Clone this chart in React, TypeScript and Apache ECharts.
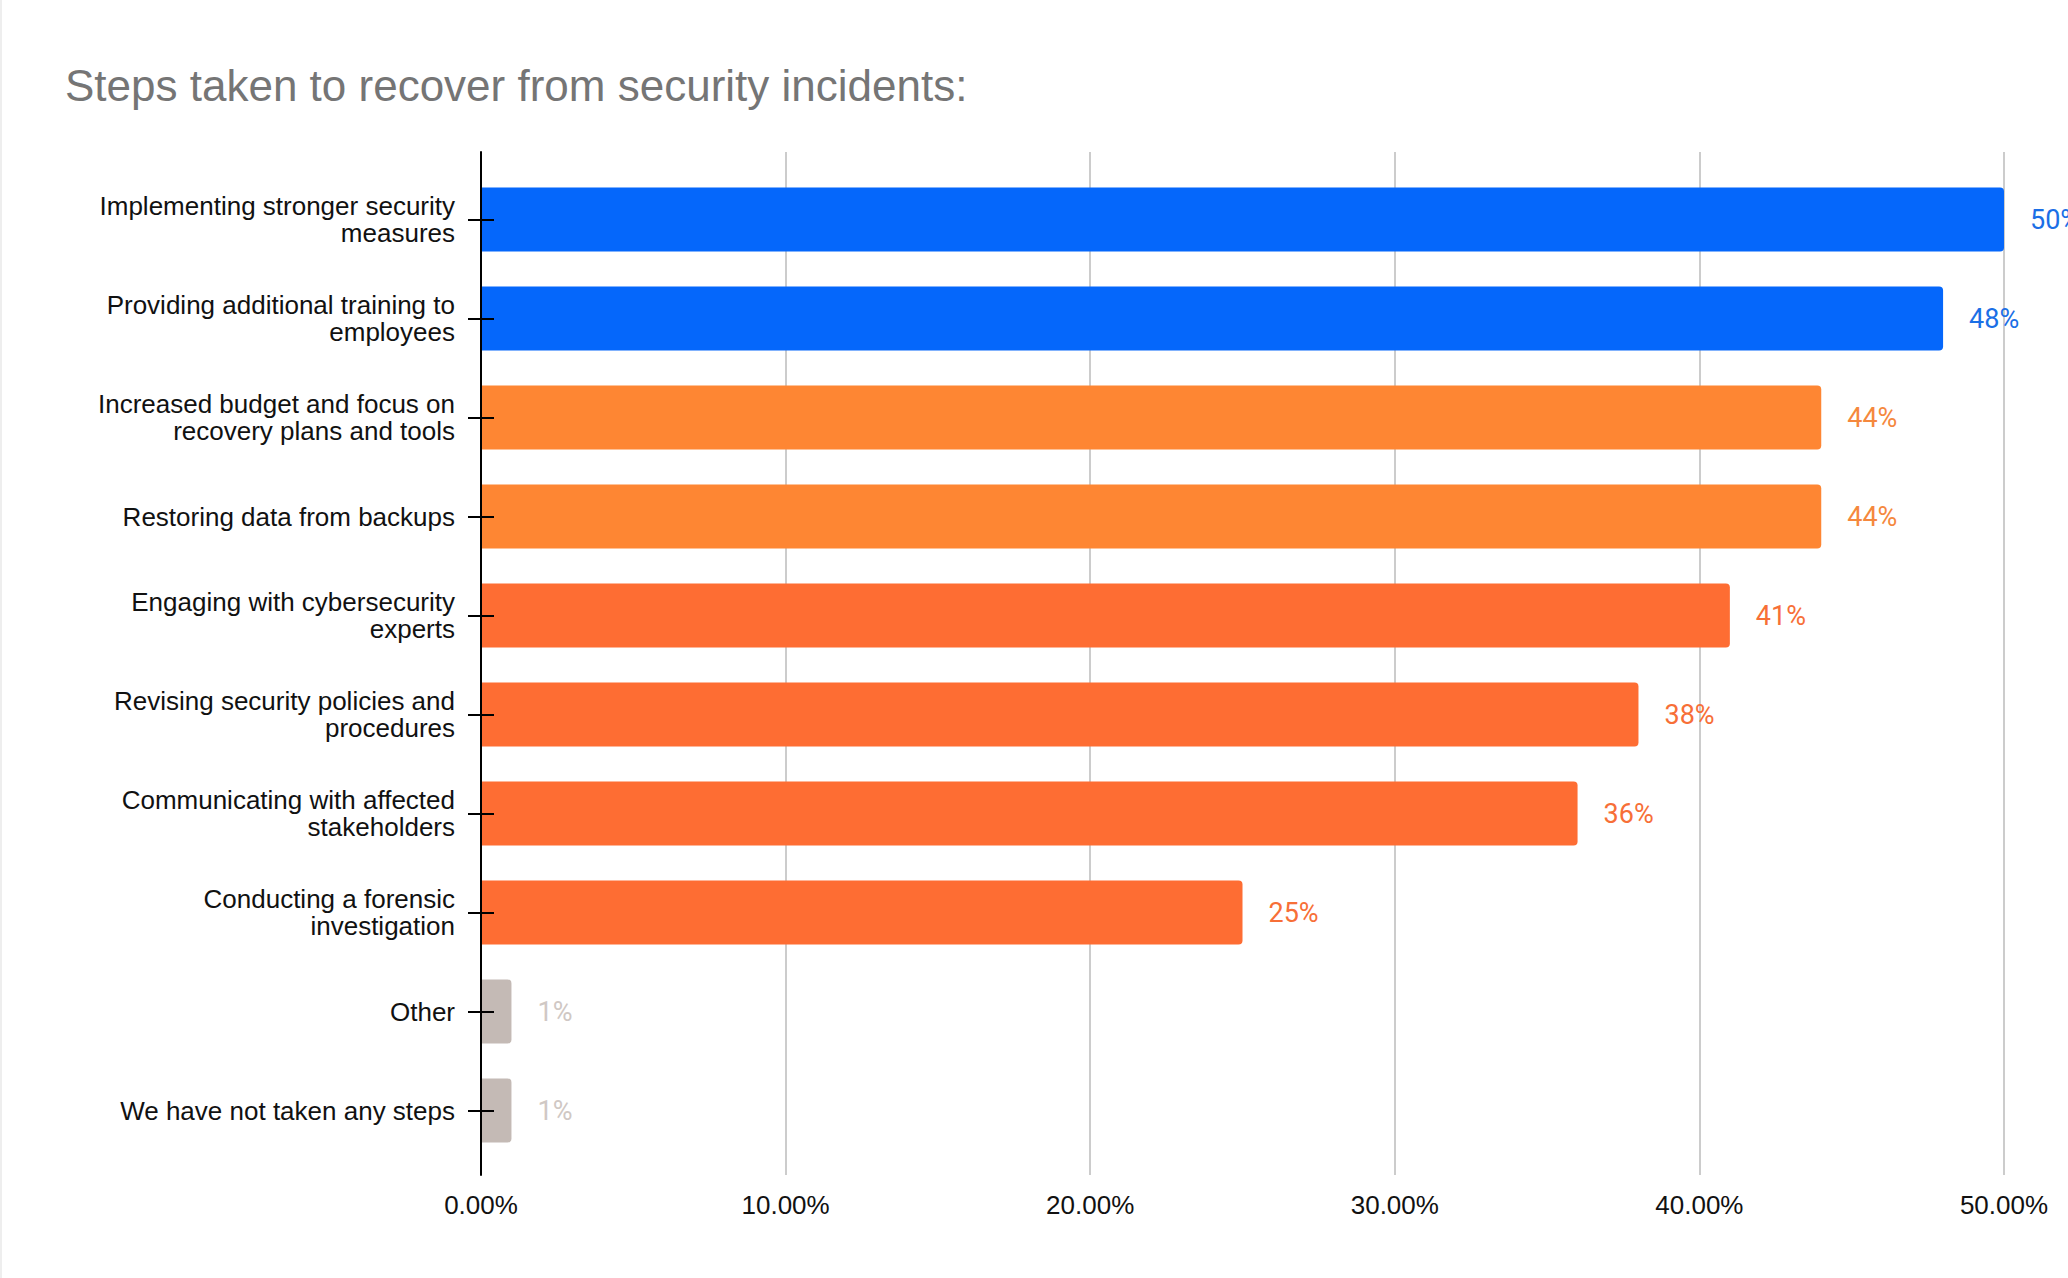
import React, { useEffect, useRef } from "react";
import * as echarts from "echarts";

const TITLE = "Steps taken to recover from security incidents:";
const categories = [
  "Implementing stronger security\nmeasures",
  "Providing additional training to\nemployees",
  "Increased budget and focus on\nrecovery plans and tools",
  "Restoring data from backups",
  "Engaging with cybersecurity\nexperts",
  "Revising security policies and\nprocedures",
  "Communicating with affected\nstakeholders",
  "Conducting a forensic\ninvestigation",
  "Other",
  "We have not taken any steps",
];
const values = [50, 48, 44, 44, 41, 38, 36, 25, 1, 1];
const xTicks = [0, 10, 20, 30, 40, 50];
// colour group per category: 0 blue, 1 light orange, 2 orange, 3 grey
const colorGroup = [0, 0, 1, 1, 2, 2, 2, 2, 3, 3];
const barColors = ["#0567fb", "#fe8633", "#fe6d33", "#c4bab5"];
const labelColors = ["#1b6fe6", "#f5883d", "#f76f37", "#d0c8c4"];

export default function App() {
  const ref = useRef<HTMLDivElement>(null);
  useEffect(() => {
    if (!ref.current) return;
    const chart = echarts.init(ref.current, null, { renderer: "svg" });
    const font = "'Liberation Sans', Arial, sans-serif";
    chart.setOption({
      animation: false,
      backgroundColor: "#ffffff",
      title: {
        text: TITLE,
        left: 58,
        top: 58,
        textStyle: { fontFamily: font, fontSize: 44, fontWeight: "normal", color: "#757575" },
      },
      grid: [
        { left: 479, right: 64, top: 152, bottom: 103 },
        { left: 479, right: 64, top: 170, bottom: 118 },
      ],
      xAxis: [
        {
          gridIndex: 0,
          type: "value",
          min: xTicks[0],
          max: xTicks[xTicks.length - 1],
          interval: 10,
          axisLine: { show: false },
          axisTick: { show: false },
          splitLine: { show: true, lineStyle: { color: "#cccccc", width: 2 } },
          axisLabel: {
            margin: 17,
            fontFamily: font,
            fontSize: 26,
            color: "#111111",
            formatter: (v: number) => v.toFixed(2) + "%",
          },
        },
        {
          gridIndex: 1,
          type: "value",
          min: xTicks[0],
          max: xTicks[xTicks.length - 1],
          interval: 10,
          show: false,
        },
      ],
      yAxis: [
        {
          gridIndex: 0,
          type: "category",
          position: "left",
          z: 5,
          data: categories,
          inverse: true,
          axisLine: { show: true, lineStyle: { color: "#000000", width: 2 } },
          axisTick: { show: false },
          axisLabel: { show: false },
          splitLine: { show: false },
        },
        {
          gridIndex: 1,
          type: "category",
          position: "left",
          z: 5,
          data: categories,
          inverse: true,
          axisLine: { show: false },
          axisTick: { show: true, alignWithLabel: true, length: 13, lineStyle: { color: "#000000", width: 2 } },
          axisLabel: {
            margin: 26,
            fontFamily: font,
            fontSize: 26,
            lineHeight: 27,
            color: "#111111",
            align: "right",
          },
        },
        {
          gridIndex: 1,
          type: "category",
          position: "left",
          offset: 0,
          z: 5,
          data: categories,
          inverse: true,
          axisLine: { show: false },
          axisTick: { show: true, inside: true, alignWithLabel: true, length: 13, lineStyle: { color: "#000000", width: 2 } },
          axisLabel: { show: false },
        },
      ],
      series: [
        {
          type: "bar",
          xAxisIndex: 1,
          yAxisIndex: 1,
          z: 2,
          barWidth: 64,
          data: values.map((v, i) => ({
            value: v,
            itemStyle: { color: barColors[colorGroup[i]], borderRadius: [0, 4, 4, 0] },
            label: { color: labelColors[colorGroup[i]] },
          })),
          label: {
            show: true,
            position: "right",
            distance: 26,
            fontFamily: "Roboto, sans-serif",
            fontSize: 27,
            formatter: (p: any) => p.value + "%",
          },
        },
      ],
    });
    return () => chart.dispose();
  }, []);
  return (
    <div
      ref={ref}
      style={{ position: "fixed", left: 0, top: 0, width: 2068, height: 1278, boxSizing: "border-box", borderLeft: "2px solid #eeeeee" }}
    />
  );
}
